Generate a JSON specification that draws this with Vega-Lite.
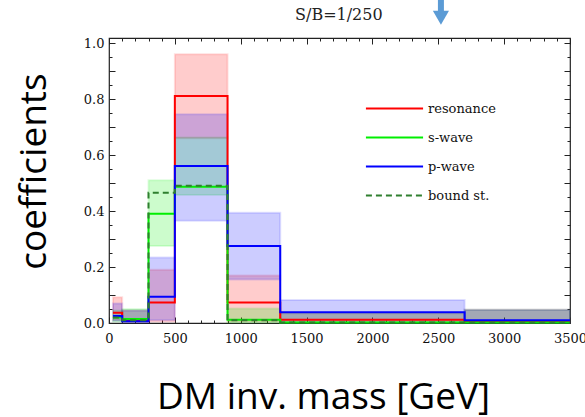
{
  "$schema": "https://vega.github.io/schema/vega-lite/v6.json",
  "width": 461,
  "height": 285,
  "autosize": {"type": "none"},
  "padding": {"left": 109, "top": 38, "right": 15, "bottom": 94},
  "background": "white",
  "datasets": {
    "bands": [
      {"series": "resonance", "x0": 30, "x1": 100, "lo": 0.01, "hi": 0.092},
      {"series": "resonance", "x0": 100, "x1": 300, "lo": 0.004, "hi": 0.045},
      {"series": "resonance", "x0": 300, "x1": 500, "lo": 0.005, "hi": 0.19},
      {"series": "resonance", "x0": 500, "x1": 900, "lo": 0.66, "hi": 0.96},
      {"series": "resonance", "x0": 900, "x1": 1300, "lo": 0.005, "hi": 0.17},
      {"series": "resonance", "x0": 1300, "x1": 2700, "lo": 0.0, "hi": 0.035},
      {"series": "resonance", "x0": 2700, "x1": 3500, "lo": 0.0, "hi": 0.047},
      {"series": "s-wave", "x0": 30, "x1": 100, "lo": 0.005, "hi": 0.045},
      {"series": "s-wave", "x0": 100, "x1": 300, "lo": 0.005, "hi": 0.05},
      {"series": "s-wave", "x0": 300, "x1": 500, "lo": 0.275, "hi": 0.51},
      {"series": "s-wave", "x0": 500, "x1": 900, "lo": 0.457, "hi": 0.663},
      {"series": "s-wave", "x0": 900, "x1": 1300, "lo": 0.002, "hi": 0.052},
      {"series": "s-wave", "x0": 1300, "x1": 2700, "lo": 0.0, "hi": 0.035},
      {"series": "s-wave", "x0": 2700, "x1": 3500, "lo": 0.0, "hi": 0.047},
      {"series": "p-wave", "x0": 30, "x1": 100, "lo": 0.008, "hi": 0.07},
      {"series": "p-wave", "x0": 100, "x1": 300, "lo": 0.002, "hi": 0.045},
      {"series": "p-wave", "x0": 300, "x1": 500, "lo": 0.01, "hi": 0.234},
      {"series": "p-wave", "x0": 500, "x1": 900, "lo": 0.365, "hi": 0.746},
      {"series": "p-wave", "x0": 900, "x1": 1300, "lo": 0.155, "hi": 0.394},
      {"series": "p-wave", "x0": 1300, "x1": 2700, "lo": 0.0, "hi": 0.082},
      {"series": "p-wave", "x0": 2700, "x1": 3500, "lo": 0.0, "hi": 0.047}
    ],
    "lines": [
      {"series": "resonance", "x": 30, "y": 0.037},
      {"series": "resonance", "x": 100, "y": 0.01},
      {"series": "resonance", "x": 300, "y": 0.073},
      {"series": "resonance", "x": 500, "y": 0.811},
      {"series": "resonance", "x": 900, "y": 0.073},
      {"series": "resonance", "x": 1300, "y": 0.012},
      {"series": "resonance", "x": 2700, "y": 0.005},
      {"series": "resonance", "x": 3500, "y": 0.005},
      {"series": "s-wave", "x": 30, "y": 0.02},
      {"series": "s-wave", "x": 100, "y": 0.014},
      {"series": "s-wave", "x": 300, "y": 0.39},
      {"series": "s-wave", "x": 500, "y": 0.487},
      {"series": "s-wave", "x": 900, "y": 0.012},
      {"series": "s-wave", "x": 1300, "y": 0.002},
      {"series": "s-wave", "x": 2700, "y": 0.002},
      {"series": "s-wave", "x": 3500, "y": 0.002},
      {"series": "p-wave", "x": 30, "y": 0.025},
      {"series": "p-wave", "x": 100, "y": 0.006},
      {"series": "p-wave", "x": 300, "y": 0.094},
      {"series": "p-wave", "x": 500, "y": 0.561},
      {"series": "p-wave", "x": 900, "y": 0.275},
      {"series": "p-wave", "x": 1300, "y": 0.038},
      {"series": "p-wave", "x": 2700, "y": 0.01},
      {"series": "p-wave", "x": 3500, "y": 0.01},
      {"series": "bound st.", "x": 30, "y": 0.02},
      {"series": "bound st.", "x": 100, "y": 0.01},
      {"series": "bound st.", "x": 300, "y": 0.465},
      {"series": "bound st.", "x": 500, "y": 0.49},
      {"series": "bound st.", "x": 900, "y": 0.01},
      {"series": "bound st.", "x": 1300, "y": 0.002},
      {"series": "bound st.", "x": 2700, "y": 0.002},
      {"series": "bound st.", "x": 3500, "y": 0.002}
    ],
    "arrow": [
      {"x": 2520, "ytop": 1.155, "ybot": 1.11, "yhead": 1.09}
    ],
    "note": [
      {"label": "S/B=1/250", "x": 1745, "y": 1.081}
    ]
  },
  "resolve": {"axis": {"x": "independent", "y": "independent"}},
  "layer": [
    {
      "data": {"name": "bands"},
      "mark": {"type": "rect", "fillOpacity": 0.2, "strokeOpacity": 0.12, "strokeWidth": 2},
      "encoding": {
        "x": {"field": "x0", "type": "quantitative",
          "scale": {"domain": [0, 3500], "nice": false, "zero": false},
          "axis": {"orient": "bottom", "values": [0, 500, 1000, 1500, 2000, 2500, 3000, 3500], "format": "d", "tickSize": -6, "labelPadding": 15, "labelFlush": false, "labelFont": "DejaVu Serif", "labelFontSize": 13, "labelColor": "#111", "title": "DM inv. mass [GeV]", "titleFont": "Open Sans", "titleFontSize": 37, "titleFontWeight": "normal", "titleColor": "#000", "titleX": 214, "titleY": 85, "titleBaseline": "alphabetic", "titleAlign": "center"}},
        "x2": {"field": "x1"},
        "y": {"field": "lo", "type": "quantitative",
          "scale": {"domain": [0, 1.018], "nice": false, "zero": false},
          "axis": {"orient": "left", "values": [0, 0.1, 0.2, 0.3, 0.4, 0.5, 0.6, 0.7, 0.8, 0.9, 1.0], "labelExpr": "round(datum.value*10) % 2 == 0 ? format(datum.value, '.1f') : ''", "tickSize": -6, "labelPadding": 11, "labelFlush": false, "labelFont": "DejaVu Serif", "labelFontSize": 13, "labelColor": "#111", "title": "coefficients", "titleFont": "Open Sans", "titleFontSize": 37, "titleFontWeight": "normal", "titleColor": "#000", "titleAngle": -90, "titleX": -64, "titleY": 133, "titleBaseline": "alphabetic", "titleAlign": "center"}},
        "y2": {"field": "hi"},
        "fill": {"field": "series", "type": "nominal", "legend": null,
          "scale": {"domain": ["resonance", "s-wave", "p-wave"], "range": ["#ff0000", "#00ee00", "#0000ff"]}},
        "stroke": {"field": "series", "type": "nominal", "legend": null,
          "scale": {"domain": ["resonance", "s-wave", "p-wave"], "range": ["#ff0000", "#00ee00", "#0000ff"]}}
      }
    },
    {
      "data": {"name": "lines"},
      "mark": {"type": "line", "interpolate": "step-after", "strokeWidth": 2},
      "encoding": {
        "x": {"field": "x", "type": "quantitative",
          "scale": {"domain": [0, 3500], "nice": false, "zero": false},
          "axis": {"orient": "top", "values": [0, 500, 1000, 1500, 2000, 2500, 3000, 3500], "tickSize": -6, "labels": false, "title": null}},
        "y": {"field": "y", "type": "quantitative",
          "scale": {"domain": [0, 1.018], "nice": false, "zero": false},
          "axis": {"orient": "right", "values": [0, 0.1, 0.2, 0.3, 0.4, 0.5, 0.6, 0.7, 0.8, 0.9, 1.0], "tickSize": -6, "labels": false, "title": null}},
        "color": {"field": "series", "type": "nominal", "title": null, "sort": null,
          "scale": {"domain": ["resonance", "s-wave", "p-wave", "bound st."], "range": ["#ff0000", "#00ee00", "#0000ff", "#2f7f2f"]}},
        "strokeDash": {"field": "series", "type": "nominal", "title": null, "sort": null,
          "scale": {"domain": ["resonance", "s-wave", "p-wave", "bound st."], "range": [[1, 0], [1, 0], [1, 0], [6, 4]]}}
      }
    },
    {
      "data": {"name": "arrow"},
      "mark": {"type": "rule", "strokeWidth": 6, "color": "#5B9BD5", "clip": false},
      "encoding": {
        "x": {"field": "x", "type": "quantitative",
          "scale": {"domain": [0, 3500], "nice": false, "zero": false},
          "axis": {"orient": "bottom", "values": [100, 200, 300, 400, 600, 700, 800, 900, 1100, 1200, 1300, 1400, 1600, 1700, 1800, 1900, 2100, 2200, 2300, 2400, 2600, 2700, 2800, 2900, 3100, 3200, 3300, 3400], "tickSize": -3, "labels": false, "title": null}},
        "y": {"field": "ytop", "type": "quantitative",
          "scale": {"domain": [0, 1.018], "nice": false, "zero": false},
          "axis": {"orient": "left", "values": [0.05, 0.15, 0.25, 0.35, 0.45, 0.55, 0.65, 0.75, 0.85, 0.95], "tickSize": -3, "labels": false, "title": null}},
        "y2": {"field": "ybot"}
      }
    },
    {
      "data": {"name": "arrow"},
      "mark": {"type": "point", "shape": "triangle-down", "filled": true, "size": 260, "color": "#5B9BD5", "opacity": 1, "clip": false},
      "encoding": {
        "x": {"field": "x", "type": "quantitative",
          "scale": {"domain": [0, 3500], "nice": false, "zero": false},
          "axis": {"orient": "top", "values": [100, 200, 300, 400, 600, 700, 800, 900, 1100, 1200, 1300, 1400, 1600, 1700, 1800, 1900, 2100, 2200, 2300, 2400, 2600, 2700, 2800, 2900, 3100, 3200, 3300, 3400], "tickSize": -3, "labels": false, "title": null}},
        "y": {"field": "yhead", "type": "quantitative",
          "scale": {"domain": [0, 1.018], "nice": false, "zero": false},
          "axis": {"orient": "right", "values": [0.05, 0.15, 0.25, 0.35, 0.45, 0.55, 0.65, 0.75, 0.85, 0.95], "tickSize": -3, "labels": false, "title": null}}
      }
    },
    {
      "data": {"name": "note"},
      "mark": {"type": "text", "font": "DejaVu Serif", "fontSize": 16, "color": "#222", "align": "center", "baseline": "alphabetic", "clip": false},
      "encoding": {
        "x": {"field": "x", "type": "quantitative", "scale": {"domain": [0, 3500], "nice": false, "zero": false}, "axis": null},
        "y": {"field": "y", "type": "quantitative", "scale": {"domain": [0, 1.018], "nice": false, "zero": false}, "axis": null},
        "text": {"field": "label"}
      }
    }
  ],
  "config": {
    "view": {"stroke": "#222", "strokeWidth": 1.2},
    "axis": {"domain": false, "grid": false, "tickColor": "#222", "tickWidth": 1, "labelFont": "DejaVu Serif", "labelFontSize": 13, "labelColor": "#111"},
    "legend": {"orient": "none", "legendX": 279, "legendY": 64, "symbolType": "M-5.4,0H5.4", "symbolSize": 112, "symbolStrokeWidth": 2, "labelFont": "DejaVu Serif", "labelFontSize": 13, "labelColor": "#111", "rowPadding": 15, "labelOffset": 27}
  }
}
